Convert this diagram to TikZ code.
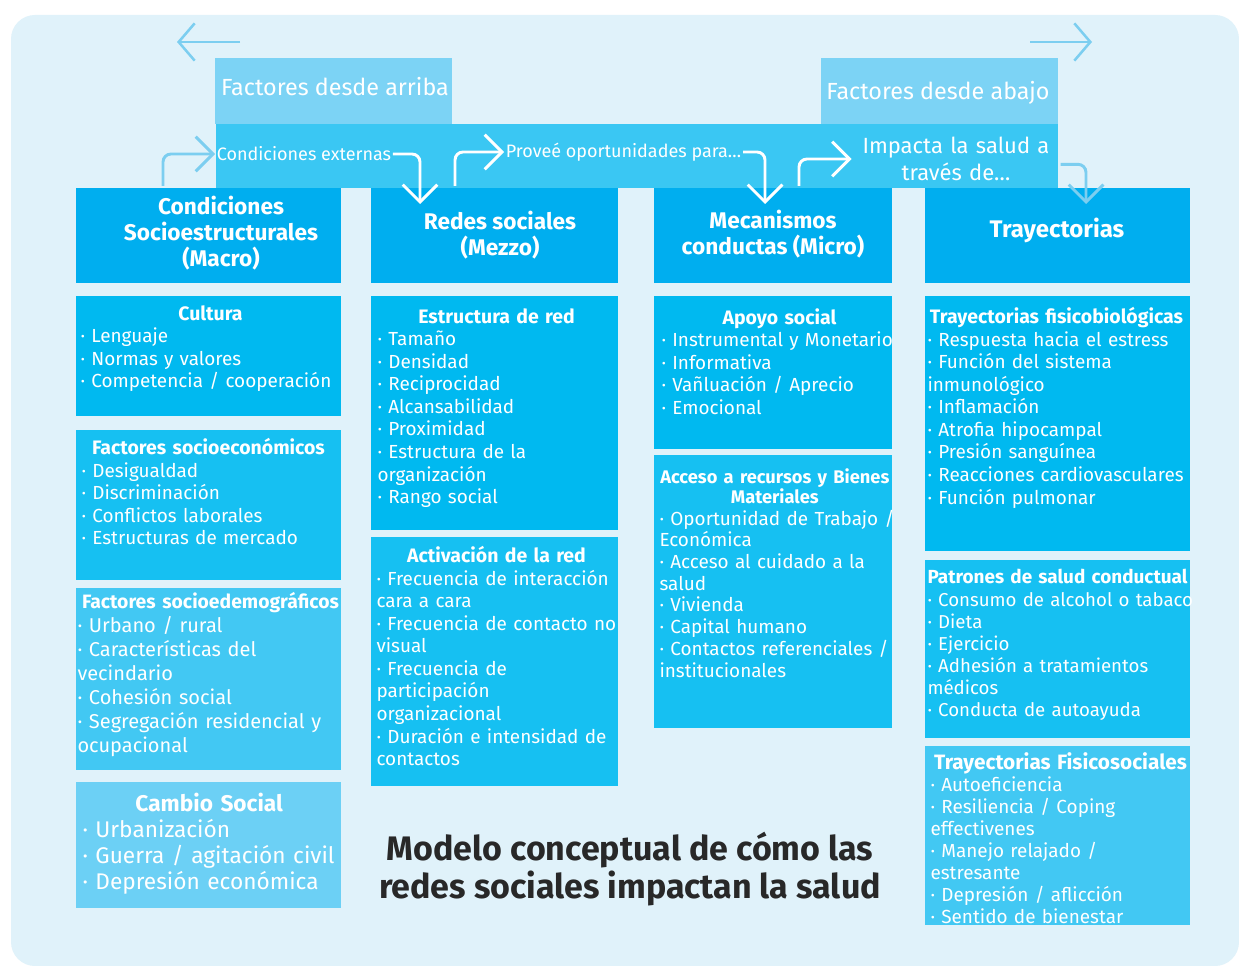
\documentclass[tikz,border=0pt]{standalone}
\usepackage{fontspec}
\setmainfont{Fira Sans}
\usetikzlibrary{arrows.meta}

\definecolor{fondo}{RGB}{224,242,250}
\definecolor{flecha}{RGB}{124,206,240}
\definecolor{cajasup}{RGB}{124,211,245}
\definecolor{banda}{RGB}{58,199,243}
\definecolor{cabeza}{RGB}{0,174,239}
\definecolor{tonoA}{RGB}{0,185,240}
\definecolor{tonoB}{RGB}{22,192,242}
\definecolor{tonoC}{RGB}{66,200,243}
\definecolor{tonoD}{RGB}{108,208,245}
\definecolor{titulo}{RGB}{40,40,40}

% centred bold title of a box
\newcommand{\titcaja}[3][14.6]{\makebox[#2]{\fontsize{#1}{16.9}\selectfont\bfseries #3}}

\tikzset{every picture/.style={line width=0.75pt}}
\tikzset{
  flujo/.style={draw=white, line width=2.2pt, rounded corners=6pt, -{Straight Barb[length=13pt,width=26pt]}},
  flujoclaro/.style={flujo, draw=flecha},
  lista/.style={anchor=north west, inner sep=0pt, text=white, align=left, text width=260pt, font=\fontsize{14.2}{16.9}\selectfont},
  cabecera/.style={text=white, align=center, font=\fontsize{17}{19.5}\selectfont\bfseries},
  etiqueta/.style={text=white, inner sep=1pt, font=\fontsize{13.5}{16}\selectfont},
}

\begin{document}
\begin{tikzpicture}[x=0.75pt,y=0.75pt,yscale=-1,xscale=1]
\useasboundingbox (0,0) rectangle (1239,966);
\fill[white] (0,0) rectangle (1239,966);

%Shape: Rounded Rect
\fill[fondo, rounded corners=18pt] (11,15) rectangle (1239,966);

%Straight Lines
\coordinate (izqA) at (240,42);
\coordinate (izqB) at (177,42);
\coordinate (derA) at (1030,42);
\coordinate (derB) at (1092,42);
\draw[flujoclaro, line width=1.9pt, -{Straight Barb[length=12pt,width=28pt]}] (izqA) -- (izqB);
\draw[flujoclaro, line width=1.9pt, -{Straight Barb[length=12pt,width=28pt]}] (derA) -- (derB);

%Shape: Rectangle
\fill[cajasup] (215,58) rectangle (452,124);
\fill[cajasup] (821,58) rectangle (1058,124);
\fill[banda] (216,124) rectangle (1058,188);

% Text Node
\node[text=white, font=\fontsize{17.5}{20}\selectfont] (arriba) at (335,87) {Factores desde arriba};
% Text Node
\node[text=white, font=\fontsize{17.5}{20}\selectfont] (abajo) at (938,93) {Factores desde abajo};
% Text Node
\node[etiqueta, anchor=west] (condext) at (215,154) {Condiciones externas};
% Text Node
\node[etiqueta, anchor=west] (provee) at (504,152) {Proveé oportunidades para…};
% Text Node
\node[text=white, align=center, text width=152pt, inner sep=2pt, font=\fontsize{16.5}{20}\selectfont] (impacta) at (956,159) {Impacta la salud a\\través de…};

%Shape: Rectangle
\fill[cabeza] (76,188) rectangle (341,283);
\fill[cabeza] (371,188) rectangle (618,283);
\fill[cabeza] (654,188) rectangle (892,283);
\fill[cabeza] (925,188) rectangle (1190,283);

% Text Node
\node[cabecera] (macro) at (221,233) {Condiciones\\Socioestructurales\\(Macro)};
% Text Node
\node[cabecera] (mezzo) at (500,235) {Redes sociales\\(Mezzo)};
% Text Node
\node[cabecera] (micro) at (773,234) {Mecanismos\\conductas (Micro)};
% Text Node
\node[cabecera, font=\fontsize{18}{20}\selectfont\bfseries] (trayec) at (1057,230) {Trayectorias};

%Straight Lines
\coordinate (salida1) at (163,186);
\coordinate (punta1) at (420,204);
\coordinate (salida2) at (455,186);
\coordinate (punta2) at (765,204);
\coordinate (salida3) at (799,186);
\coordinate (punta3) at (1086,204);
\draw[flujoclaro] (salida1) |- (condext.west);
\draw[flujo] (condext.east) -| (punta1);
\draw[flujo] (salida2) |- (provee.west);
\draw[flujo] (provee.east) -| (punta2);
\draw[flujo] (salida3) |- (impacta.west);
\draw[flujoclaro] ([yshift=4pt]impacta.east) -| (punta3);

%Shape: Rectangle
\fill[tonoA] (76,296) rectangle (341,416);
\fill[tonoB] (76,430) rectangle (341,580);
\fill[tonoC] (76,588) rectangle (341,770);
\fill[tonoD] (76,782) rectangle (341,908);

% Text Node
\node[lista] (cultura) at (80,305) {\titcaja{195pt}{Cultura}\\
· Lenguaje\\
· Normas y valores\\
· Competencia / cooperación};
% Text Node
\node[lista] (socioeco) at (81,438) {\titcaja{190.5pt}{Factores socioeconómicos}\\
· Desigualdad\\
· Discriminación\\
· Conflictos laborales\\
· Estructuras de mercado};
% Text Node
\node[lista, font=\fontsize{15}{18}\selectfont] (sociodemo) at (77,592) {\titcaja[14.5]{199.5pt}{Factores socioedemográficos}\\
· Urbano / rural\\
· Características del\\
vecindario\\
· Cohesión social\\
· Segregación residencial y\\
ocupacional};
% Text Node
\node[lista, font=\fontsize{17}{19.3}\selectfont] (cambio) at (82,793) {\titcaja[17]{190pt}{Cambio Social}\\
· Urbanización\\
· Guerra / agitación civil\\
· Depresión económica};

%Shape: Rectangle
\fill[tonoA] (371,296) rectangle (618,530);
\fill[tonoB] (371,537) rectangle (618,786);

% Text Node
\node[lista] (estructura) at (377,308) {\titcaja{178.5pt}{Estructura de red}\\
· Tamaño\\
· Densidad\\
· Reciprocidad\\
· Alcansabilidad\\
· Proximidad\\
· Estructura de la\\
organización\\
· Rango social};
% Text Node
\node[lista] (activacion) at (376,546) {\titcaja{180pt}{Activación de la red}\\
· Frecuencia de interacción\\
cara a cara\\
· Frecuencia de contacto no\\
visual\\
· Frecuencia de\\
participación\\
organizacional\\
· Duración e intensidad de\\
contactos};

%Shape: Rectangle
\fill[tonoA] (654,296) rectangle (892,449);
\fill[tonoB] (654,455) rectangle (892,728);

% Text Node
\begin{scope}
\clip (654,296) rectangle (892,449);
\node[lista] (apoyo) at (661,308) {\titcaja{177pt}{Apoyo social}\\
· Instrumental y Monetario\\
· Informativa\\
· Vañluación / Aprecio\\
· Emocional};
\end{scope}
% Text Node
\node[lista, font=\fontsize{14.2}{16.3}\selectfont] (acceso) at (659,468) {\titcaja[13.7]{173pt}{Acceso a recursos y Bienes}\\[-1.3pt]
\titcaja[13.7]{173pt}{Materiales}\\
· Oportunidad de Trabajo /\\
Económica\\
· Acceso al cuidado a la\\
salud\\
· Vivienda\\
· Capital humano\\
· Contactos referenciales /\\
institucionales};

%Shape: Rectangle
\fill[tonoA] (925,296) rectangle (1190,551);
\fill[tonoB] (925,560) rectangle (1190,738);
\fill[tonoC] (925,746) rectangle (1190,925);

% Text Node
\node[lista] (fisicobio) at (927,307) {\titcaja{193.5pt}{Trayectorias fisicobiológicas}\\
· Respuesta hacia el estress\\
· Función del sistema\\
inmunológico\\
· Inflamación\\
· Atrofia hipocampal\\
· Presión sanguínea\\
· Reacciones cardiovasculares\\
· Función pulmonar};
% Text Node
\node[lista, font=\fontsize{14}{16.6}\selectfont] (patrones) at (927,569) {\titcaja[14.2]{195pt}{Patrones de salud conductual}\\
· Consumo de alcohol o tabaco\\
· Dieta\\
· Ejercicio\\
· Adhesión a tratamientos\\
médicos\\
· Conducta de autoayuda};
% Text Node
\node[lista, font=\fontsize{14.2}{16.5}\selectfont] (fisicosocial) at (930,752) {\titcaja[15.6]{195pt}{Trayectorias Fisicosociales}\\
· Autoeficiencia\\
· Resiliencia / Coping\\
effectivenes\\
· Manejo relajado /\\
estresante\\
· Depresión / aflicción\\
· Sentido de bienestar};

% Text Node
\node[text=titulo, align=center, font=\fontsize{25.5}{28}\selectfont\bfseries] (modelo) at (630,869) {Modelo conceptual de cómo las\\redes sociales impactan la salud};

\end{tikzpicture}
\end{document}
